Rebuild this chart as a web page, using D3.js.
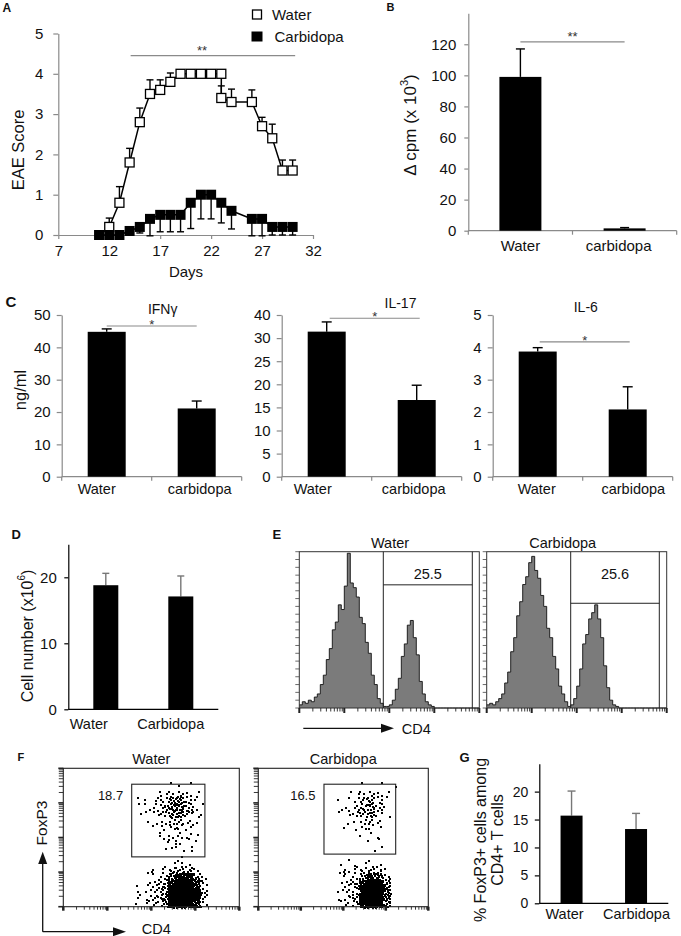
<!DOCTYPE html>
<html><head><meta charset="utf-8">
<script src="https://cdn.jsdelivr.net/npm/d3@7"></script>
<style>
html,body{margin:0;padding:0;background:#fff;}
svg{display:block;font-family:"Liberation Sans",Arial,Helvetica,sans-serif;}
</style></head><body>
<svg id="fig" width="681" height="936"></svg>
<script>
// ================= DATA =================
// Panel A: EAE clinical score
const waterDays    = [12,13,14,15,16,17,18,19,20,21,22,23,23,24,26,27,28,29,30];
const waterScore   = [0.2,0.8,1.8,2.8,3.5,3.6,3.8,4,4,4,4,4,3.4,3.3,3.3,2.7,2.4,1.6,1.6];
const waterErrUp   = [0.22,0.4,0.35,0.35,0.35,0.25,0.22,0,0,0,0,0,0.3,0.32,0.3,0.22,0.35,0.26,0.26];
const carbiDays    = [11,12,13,14,15,16,17,18,19,20,21,22,23,24,26,27,28,29,30];
const carbiScore   = [0,0,0,0.1,0.2,0.4,0.5,0.5,0.5,0.8,1,1,0.8,0.6,0.4,0.4,0.2,0.2,0.2];
const carbiErrDown = [0,0,0,0.1,0.15,0.42,0.42,0.42,0.42,0.64,0.6,0.6,0.5,0.45,0.42,0.42,0.2,0.2,0.2];
const eaeDayTicks  = [7,12,17,22,27,32];
const eaeScoreTicks= [0,1,2,3,4,5];
const sigA         = {from:14.1, to:30.25, level:4.45, starAt:21.1, text:"**"};
const legendNames  = ["Water","Carbidopa"];

// Panel B: proliferation
const groupsLower  = ["Water","carbidopa"];
const cpmValues    = [99, 1.5];
const cpmErr       = [18, 0.5];
const cpmTicks     = [0,20,40,60,80,100,120];

// Panel C: cytokines (ng/ml)
const ifngValues   = [44.8, 21.1];
const ifngErr      = [0.9, 2.3];
const ifngTicks    = [0,10,20,30,40,50];
const il17Values   = [31.4, 16.6];
const il17Err      = [2.1, 3.2];
const il17Ticks    = [0,5,10,15,20,25,30,35];
const il17TickLabels = ["0","5","10","15","20","25","30","40"];
const il6Values    = [3.87, 2.08];
const il6Err       = [0.12, 0.7];
const il6Ticks     = [0,1,2,3,4,5];

// Panel D: cell number (x10^6)
const groupsUpper  = ["Water","Carbidopa"];
const cellValues   = [18.8, 17.1];
const cellErr      = [1.8, 3.1];
const cellTicks    = [0,10,20];

// Panel E: CD4 histograms (% of max, 3-channel bins)
const cd4Water = [2,4,3,5,4,7,9,15,21,31,38,50,55,66,63,78,99,80,77,71,58,54,42,35,21,15,6,3,1,1,
                  2,5,12,19,33,41,53,56,45,34,17,9,4,2,1,0,0,0,0,0,0,0,0,0,0,0,0,0,0,0];
const cd4Carbi = [2,3,2,4,6,9,16,23,36,45,59,68,79,84,93,97,88,83,72,65,51,45,33,25,14,9,4,1,2,6,
                  14,25,41,47,57,61,66,57,45,27,13,5,2,1,0,0,0,0,0,0,0,0,0,0,0,0,0,0,0,0];
const cd4Gates   = [{start:84, end:173, level:78.8, label:"25.5"},
                    {start:84, end:172.6, level:67, label:"25.6"}];
const histTitles = ["Water","Carbidopa"];

// Panel F: FoxP3 vs CD4 dot plots, dots per grid cell (0-9a-zA-Z = 0..61, rows top->bottom)
const foxWaterGrid = [
"0000000000000000000000","0000000000000000000000","0000000000000111000000","0000000000012342100000",
"00000000011238a4210000","0000000001235bc6200000","0000000001124895210000","0000000000112442100000",
"0000000000012332100000","0000000000011232100000","0000000000002221100000","0000000000001121100000",
"0000000000000010000000","0000000000000121000000","0000000000112465200000","0000000000124cosa20000",
"0000000001236qMQo30000","0000000001248CWWu40000","0000000002249EZYu40000","0000000001236wQMm30000"];
const foxCarbiGrid = [
"0000000000000000000000","0000000000000000000000","0000000000000101010000","0000000000011232100000",
"0000000000112463100000","0000000000123695100000","0000000000113573100000","0000000000011332000000",
"0000000000101221000000","0000000000000111000000","0000000000000011000000","0000000000000011000000",
"0000000000000000000000","0000000000111111000000","0000000000122343100000","00000000002238ie300000",
"0000000000134mKEa00000","0000000000235uUOe00000","0000000000135uXQe00000","0000000000124oMGa00000"];
const foxGates = [{x0:8.55, x1:17.7, y0:2.3, y1:12.8, label:"18.7"},
                  {x0:8.5, x1:17.78, y0:2.3, y1:12.4, label:"16.5"}];

// Panel G: % FoxP3+ among CD4+
const tregValues = [15.7, 13.3];
const tregErr    = [4.4, 2.8];
const tregTicks  = [0,5,10,15,20];

// ================= DRAWING =================
const svg = d3.select("#fig");
const AXG = "#8a8a8a";
const DIGITS = "0123456789abcdefghijklmnopqrstuvwxyzABCDEFGHIJKLMNOPQRSTUVWXYZ";

function txt(g, x, y, s, size, opt = {}) {
  const t = g.append("text").attr("x", x).attr("y", y).text(s)
    .attr("font-size", size).attr("fill", opt.fill || "#111")
    .attr("text-anchor", opt.anchor || "start");
  if (opt.bold) t.attr("font-weight", "bold");
  if (opt.rotate) t.attr("transform", `rotate(-90,${x},${y})`).attr("dominant-baseline", "central");
  return t;
}
function styleAxis(sel, color, fs, w = 1.2) {
  sel.attr("font-family", null).attr("font-size", null);
  sel.select(".domain").attr("stroke", color).attr("stroke-width", w);
  sel.selectAll(".tick line").attr("stroke", color).attr("stroke-width", w);
  sel.selectAll(".tick text").attr("font-size", fs).attr("fill", "#111");
}

// ---------- Panel A ----------
(function () {
  const g = svg.append("g");
  const x = d3.scaleLinear().domain([7, 32]).range([58.3, 313]);
  const y = d3.scaleLinear().domain([0, 5]).range([235, 33.5]);
  const ax = g.append("g").attr("transform", "translate(0,235)")
    .call(d3.axisBottom(x).tickValues(eaeDayTicks).tickFormat(d3.format("d")).tickSize(4).tickSizeOuter(0).tickPadding(6));
  styleAxis(ax, AXG, 15);
  const ay = g.append("g").attr("transform", "translate(58.3,0)")
    .call(d3.axisLeft(y).tickValues(eaeScoreTicks).tickFormat(d3.format("d")).tickSize(5).tickSizeOuter(0).tickPadding(10));
  styleAxis(ay, AXG, 15);

  // significance
  g.append("line").attr("x1", x(sigA.from)).attr("x2", x(sigA.to))
    .attr("y1", y(sigA.level)).attr("y2", y(sigA.level)).attr("stroke", AXG).attr("stroke-width", 1.2);
  txt(g, x(sigA.starAt), y(sigA.level) - 0.5, sigA.text, 13, {anchor: "middle", fill: "#333"});

  const W = waterDays.map((d, i) => ({d, v: waterScore[i], e: waterErrUp[i]}));
  const C = carbiDays.map((d, i) => ({d, v: carbiScore[i], e: carbiErrDown[i]}));
  const cap = 3.5;
  W.filter(p => p.e > 0).forEach(p => {
    g.append("line").attr("x1", x(p.d)).attr("x2", x(p.d)).attr("y1", y(p.v)).attr("y2", y(p.v + p.e)).attr("stroke", "#000").attr("stroke-width", 1.4);
    g.append("line").attr("x1", x(p.d) - cap).attr("x2", x(p.d) + cap).attr("y1", y(p.v + p.e)).attr("y2", y(p.v + p.e)).attr("stroke", "#000").attr("stroke-width", 1.4);
  });
  C.filter(p => p.e > 0).forEach(p => {
    g.append("line").attr("x1", x(p.d)).attr("x2", x(p.d)).attr("y1", y(p.v)).attr("y2", y(p.v - p.e)).attr("stroke", "#000").attr("stroke-width", 1.4);
    g.append("line").attr("x1", x(p.d) - cap).attr("x2", x(p.d) + cap).attr("y1", y(p.v - p.e)).attr("y2", y(p.v - p.e)).attr("stroke", "#000").attr("stroke-width", 1.4);
  });
  const line = d3.line().x(p => x(p.d)).y(p => y(p.v));
  g.append("path").attr("d", line(W)).attr("fill", "none").attr("stroke", "#000").attr("stroke-width", 1.5);
  g.append("path").attr("d", line(C)).attr("fill", "none").attr("stroke", "#000").attr("stroke-width", 1.5);
  const sw = 9, sc = 10;
  g.selectAll(".wm").data(W).join("rect").attr("x", p => x(p.d) - sw / 2).attr("y", p => y(p.v) - sw / 2)
    .attr("width", sw).attr("height", sw).attr("fill", "#fff").attr("stroke", "#000").attr("stroke-width", 1.3);
  g.selectAll(".cm").data(C).join("rect").attr("x", p => x(p.d) - sc / 2).attr("y", p => y(p.v) - sc / 2)
    .attr("width", sc).attr("height", sc).attr("fill", "#000");

  // legend
  g.append("rect").attr("x", 252.5).attr("y", 10).attr("width", 9).attr("height", 9).attr("fill", "#fff").attr("stroke", "#000").attr("stroke-width", 1.3);
  txt(g, 272, 19.8, legendNames[0], 15);
  g.append("rect").attr("x", 251.5).attr("y", 31.5).attr("width", 11).attr("height", 10).attr("fill", "#000");
  txt(g, 274.5, 41.8, legendNames[1], 15);

  txt(g, 186, 277, "Days", 15, {anchor: "middle"});
  txt(g, 17.5, 150, "EAE Score", 16.5, {anchor: "middle", rotate: true});
  txt(g, 2.5, 12, "A", 12, {bold: true});
})();

// ---------- generic bar panel ----------
function barPanel(p) {
  const g = svg.append("g");
  const x = d3.scaleBand().domain(p.cats).range([p.x0, p.x1]);
  const y = d3.scaleLinear().domain([0, p.max]).range([p.yb, p.yt]);
  const ay = g.append("g").attr("transform", `translate(${p.x0},0)`)
    .call(d3.axisLeft(y).tickValues(p.ticks).tickSize(p.tickLen).tickSizeOuter(0).tickPadding(p.pad)
      .tickFormat((d, i) => p.tickLabels ? p.tickLabels[i] : d));
  styleAxis(ay, p.axisColor, p.tickFont, p.axisW);
  g.append("line").attr("x1", p.x0).attr("x2", p.x1).attr("y1", p.yb).attr("y2", p.yb)
    .attr("stroke", p.axisColor).attr("stroke-width", p.axisW);
  if (p.xTicks) {
    [p.x0, x(p.cats[1]), p.x1].forEach(xx => g.append("line").attr("x1", xx).attr("x2", xx)
      .attr("y1", p.yb).attr("y2", p.yb + 4).attr("stroke", p.axisColor).attr("stroke-width", p.axisW));
  }
  const cx = i => x(p.cats[i]) + x.bandwidth() / 2;
  p.vals.forEach((v, i) => {
    const top = y(v + p.errs[i]);
    g.append("line").attr("x1", cx(i)).attr("x2", cx(i)).attr("y1", y(v)).attr("y2", top)
      .attr("stroke", p.errColor).attr("stroke-width", 1.4);
    g.append("line").attr("x1", cx(i) - p.cap).attr("x2", cx(i) + p.cap).attr("y1", top).attr("y2", top)
      .attr("stroke", p.errColor).attr("stroke-width", 1.4);
  });
  g.selectAll(".bar").data(p.vals).join("rect")
    .attr("x", (d, i) => cx(i) - p.barW / 2).attr("width", p.barW)
    .attr("y", d => y(d)).attr("height", d => y(0) - y(d)).attr("fill", "#000");
  p.cats.forEach((c, i) => txt(g, cx(i) + (p.labelDx ? p.labelDx[i] : 0), p.labelY, c, p.labelFont, {anchor: "middle"}));
  if (p.sig) {
    const ly = y(p.sig.level);
    g.append("line").attr("x1", cx(0) + (p.sig.dx || 0)).attr("x2", cx(1) + (p.sig.dx || 0)).attr("y1", ly).attr("y2", ly)
      .attr("stroke", AXG).attr("stroke-width", 1.2);
    txt(g, (cx(0) + cx(1)) / 2 + (p.sig.dx || 0), ly + p.sig.starDy, p.sig.text, 13, {anchor: "middle", fill: "#333"});
  }
  return {g, x, y};
}

// ---------- Panel B ----------
(function () {
  const r = barPanel({cats: groupsLower, vals: cpmValues, errs: cpmErr, x0: 468.3, x1: 676.7, yb: 230.7, yt: 13.2,
    max: 140, ticks: cpmTicks, tickLen: 4, pad: 8, tickFont: 15, axisColor: AXG, axisW: 1.2, xTicks: true,
    barW: 42, cap: 4.5, errColor: "#000", labelY: 250.5, labelFont: 15, labelDx: [0, -6],
    sig: {level: 121.5, text: "**", starDy: -0.5}});
  const t = r.g.append("text").attr("transform", "translate(409.5,125) rotate(-90)")
    .attr("text-anchor", "middle").attr("dominant-baseline", "central").attr("font-size", 17).attr("fill", "#111");
  t.append("tspan").text("\u0394 cpm (x 10");
  t.append("tspan").text("3").attr("font-size", 11).attr("dy", -6);
  t.append("tspan").text(")").attr("dy", 6);
  txt(r.g, 386.5, 11, "B", 11, {bold: true});
})();

// ---------- Panel C ----------
(function () {
  const common = {cats: groupsLower, yb: 476.7, yt: 315, tickLen: 5, pad: 6, tickFont: 15, axisColor: AXG, axisW: 1.2,
    xTicks: true, barW: 38, cap: 5, errColor: "#000", labelY: 494, labelFont: 14.5};
  const a = barPanel(Object.assign({}, common, {vals: ifngValues, errs: ifngErr, x0: 61.7, x1: 241.7, max: 50,
    ticks: ifngTicks, labelDx: [-10, 3], sig: {level: 46.6, text: "*", starDy: 3}}));
  txt(a.g, 162.7, 314, "IFN\u03b3", 14, {anchor: "middle"});
  const b = barPanel(Object.assign({}, common, {vals: il17Values, errs: il17Err, x0: 281.7, x1: 461.7, max: 35,
    ticks: il17Ticks, tickLabels: il17TickLabels, labelDx: [-14, -3], sig: {level: 34.3, text: "*", starDy: 3, dx: 3}}));
  txt(b.g, 400.5, 307.7, "IL-17", 14, {anchor: "middle"});
  const c = barPanel(Object.assign({}, common, {vals: il6Values, errs: il6Err, x0: 492.7, x1: 672.7, max: 5,
    ticks: il6Ticks, labelDx: [-1, 5.6], sig: {level: 4.17, text: "*", starDy: 3, dx: 2}}));
  txt(c.g, 585.8, 312, "IL-6", 14, {anchor: "middle"});
  txt(a.g, 19.5, 390, "ng/ml", 16.5, {anchor: "middle", rotate: true});
  txt(a.g, 5.5, 306.5, "C", 15, {bold: true});
})();

// ---------- Panel D ----------
(function () {
  const r = barPanel({cats: groupsUpper, vals: cellValues, errs: cellErr, x0: 68.3, x1: 218.3, yb: 709.3, yt: 544.3,
    max: 25, ticks: cellTicks, tickLen: 4, pad: 7.5, tickFont: 15, axisColor: "#000", axisW: 1.2, xTicks: false,
    barW: 25, cap: 3.5, errColor: "#777", labelY: 728.5, labelFont: 14.5, labelDx: [-17, -10]});
  const t = r.g.append("text").attr("transform", "translate(27,636) rotate(-90)")
    .attr("text-anchor", "middle").attr("dominant-baseline", "central").attr("font-size", 16).attr("fill", "#111");
  t.append("tspan").text("Cell number (x10");
  t.append("tspan").text("6").attr("font-size", 10).attr("dy", -6);
  t.append("tspan").text(")").attr("dy", 6);
  txt(r.g, 11.5, 539.3, "D", 13, {bold: true});
})();

// ---------- Panel G ----------
(function () {
  const r = barPanel({cats: groupsUpper, vals: tregValues, errs: tregErr, x0: 539.3, x1: 668.3, yb: 903.3, yt: 763.7,
    max: 25, ticks: tregTicks, tickLen: 4.5, pad: 6.5, tickFont: 14, axisColor: "#000", axisW: 1.2, xTicks: false,
    barW: 22, cap: 4, errColor: "#777", labelY: 919, labelFont: 14.5, labelDx: [-7, 0.5]});
  txt(r.g, 480.5, 840, "% FoxP3+ cells among", 16, {anchor: "middle", rotate: true});
  txt(r.g, 497, 840, "CD4+ T cells", 16, {anchor: "middle", rotate: true});
  txt(r.g, 459.5, 761.7, "G", 13, {bold: true});
})();

// ---------- log tick helper ----------
function logTickValues(lo, hi) {
  const t = [];
  for (let e = lo; e < hi; e++) for (let m = 1; m < 10; m++) t.push({v: m * Math.pow(10, e), major: m === 1});
  t.push({v: Math.pow(10, hi), major: true});
  return t;
}

// ---------- Panel E ----------
(function () {
  const g = svg.append("g");
  const frames = [{x0: 299.3, x1: 479.3}, {x0: 486.7, x1: 666.7}];
  const yt = 551.7, yb = 708;
  const data = [cd4Water, cd4Carbi];
  const titleX = [390, 562.7];
  frames.forEach((f, k) => {
    const x = d3.scaleLinear().domain([0, 180]).range([f.x0, f.x1]);
    const y = d3.scaleLinear().domain([0, 100]).range([yb, yt]);
    const binW = 180 / data[k].length;
    const pts = data[k].map((v, i) => [i * binW, v]);
    pts.push([data[k].length * binW, 0]);
    const area = d3.area().curve(d3.curveStepAfter).x(d => x(d[0])).y0(y(0)).y1(d => y(d[1]));
    const line = d3.line().curve(d3.curveStepAfter).x(d => x(d[0])).y(d => y(d[1]));
    g.append("path").attr("d", area(pts)).attr("fill", "#7b7b7b");
    g.append("path").attr("d", line(pts)).attr("fill", "none").attr("stroke", "#111").attr("stroke-width", 0.9);
    g.append("rect").attr("x", f.x0).attr("y", yt).attr("width", f.x1 - f.x0).attr("height", yb - yt)
      .attr("fill", "none").attr("stroke", "#333").attr("stroke-width", 1);
    const gt = cd4Gates[k];
    [gt.start, gt.end].forEach(c => g.append("line").attr("x1", x(c)).attr("x2", x(c)).attr("y1", yt).attr("y2", yb)
      .attr("stroke", "#222").attr("stroke-width", 1));
    g.append("line").attr("x1", x(gt.start)).attr("x2", x(gt.end)).attr("y1", y(gt.level)).attr("y2", y(gt.level))
      .attr("stroke", "#222").attr("stroke-width", 1);
    txt(g, (x(gt.start) + x(gt.end)) / 2, yt + 27.3, gt.label, 14.5, {anchor: "middle"});
    d3.range(0, 101, 5).forEach(v => g.append("line").attr("x1", f.x0 - 4).attr("x2", f.x0)
      .attr("y1", y(v)).attr("y2", y(v)).attr("stroke", "#444").attr("stroke-width", 0.8));
    const lx = d3.scaleLog().domain([1, 1e4]).range([f.x0, f.x1]);
    logTickValues(0, 4).forEach(t => g.append("line").attr("x1", lx(t.v)).attr("x2", lx(t.v))
      .attr("y1", yb).attr("y2", yb + (t.major ? 5 : 3.5)).attr("stroke", "#222").attr("stroke-width", t.major ? 2 : 0.9));
    txt(g, titleX[k], 548, histTitles[k], 14.5, {anchor: "middle"});
  });
  g.append("line").attr("x1", 303.3).attr("x2", 384).attr("y1", 728.3).attr("y2", 728.3).attr("stroke", "#111").attr("stroke-width", 1.3);
  g.append("path").attr("d", "M381,723.8 L394,728.3 L381,732.8 Z").attr("fill", "#111");
  txt(g, 401.7, 733.5, "CD4", 14.5);
  txt(g, 272.5, 539, "E", 13, {bold: true});
})();

// ---------- Panel F ----------
function radicalInverse(i, b) { let f = 1, r = 0; while (i > 0) { f /= b; r += f * (i % b); i = Math.floor(i / b); } return r; }
(function () {
  const g = svg.append("g");
  const frames = [{x0: 63.3, x1: 239.3}, {x0: 258.3, x1: 428.3}];
  const yt = 768.3, yb = 906.7;
  const grids = [foxWaterGrid, foxCarbiGrid];
  const titles = ["Water", "Carbidopa"];
  frames.forEach((f, k) => {
    const x = d3.scaleLinear().domain([0, 22]).range([f.x0, f.x1]);
    const y = d3.scaleLinear().domain([0, 20]).range([yt, yb]);
    const dots = [];
    grids[k].forEach((row, r) => {
      for (let c = 0; c < row.length; c++) {
        const n = DIGITS.indexOf(row[c]);
        const seed = (r * 31 + c * 17) % 97 + 1;
        for (let j = 0; j < n; j++) dots.push([c + radicalInverse(seed + j, 2), r + radicalInverse(seed + j, 3)]);
      }
    });
    g.append("g").attr("shape-rendering", "crispEdges").selectAll("rect").data(dots).join("rect")
      .attr("x", d => Math.round(x(d[0]))).attr("y", d => Math.round(y(d[1])))
      .attr("width", 1.5).attr("height", 1.5).attr("fill", "#000");
    g.append("rect").attr("x", f.x0).attr("y", yt).attr("width", f.x1 - f.x0).attr("height", yb - yt)
      .attr("fill", "none").attr("stroke", "#222").attr("stroke-width", 1.1);
    const gt = foxGates[k];
    g.append("rect").attr("x", x(gt.x0)).attr("y", y(gt.y0)).attr("width", x(gt.x1) - x(gt.x0)).attr("height", y(gt.y1) - y(gt.y0))
      .attr("fill", "none").attr("stroke", "#222").attr("stroke-width", 1.1);
    txt(g, x(gt.x0) - 8.5, y(gt.y0) + 15.7, gt.label, 13, {anchor: "end"});
    const lx = d3.scaleLog().domain([1, 1e4]).range([f.x0, f.x1]);
    const ly = d3.scaleLog().domain([1, 1e4]).range([yb, yt]);
    logTickValues(0, 4).forEach(t => {
      g.append("line").attr("x1", lx(t.v)).attr("x2", lx(t.v)).attr("y1", yb).attr("y2", yb + (t.major ? 4 : 3))
        .attr("stroke", "#222").attr("stroke-width", t.major ? 2.5 : 0.9);
      g.append("line").attr("x1", f.x0 - (t.major ? 5 : 4.5)).attr("x2", f.x0).attr("y1", ly(t.v)).attr("y2", ly(t.v))
        .attr("stroke", "#222").attr("stroke-width", t.major ? 1.6 : 0.9);
    });
    txt(g, (f.x0 + f.x1) / 2, 764, titles[k], 14.5, {anchor: "middle"});
  });
  g.append("line").attr("x1", 42.7).attr("x2", 42.7).attr("y1", 931.7).attr("y2", 862).attr("stroke", "#111").attr("stroke-width", 1.3);
  g.append("path").attr("d", "M38.2,864 L42.7,851.7 L47.2,864 Z").attr("fill", "#111");
  g.append("line").attr("x1", 42.7).attr("x2", 116).attr("y1", 931.7).attr("y2", 931.7).attr("stroke", "#111").attr("stroke-width", 1.3);
  g.append("path").attr("d", "M113,927.2 L126,931.7 L113,936.2 Z").attr("fill", "#111");
  txt(g, 41, 823, "FoxP3", 15.5, {anchor: "middle", rotate: true});
  txt(g, 141.7, 934, "CD4", 14.5);
  txt(g, 17.5, 761, "F", 11, {bold: true});
})();
</script></body></html>
